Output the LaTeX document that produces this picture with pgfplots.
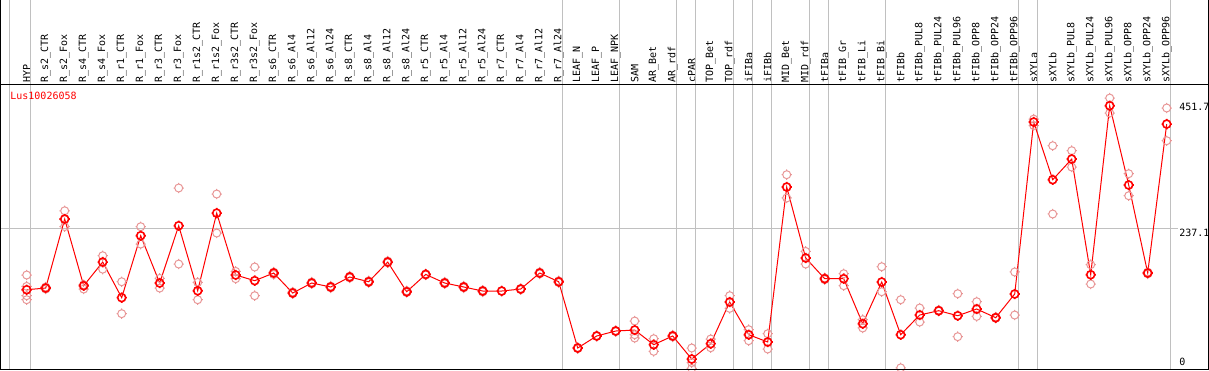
\documentclass[border=0pt]{standalone}
\usepackage{pgfplots}
\pgfplotsset{compat=1.18}
\usepackage{fontspec}
\setmonofont{DejaVu Sans Mono}
\definecolor{gridgray}{RGB}{192,192,192}
\definecolor{reppink}{RGB}{232,150,150}
\definecolor{mainred}{RGB}{255,0,0}
\pgfdeclareplotmark{sun}{%
  \pgfpathcircle{\pgfpointorigin}{\pgfplotmarksize}%
  \pgfpathmoveto{\pgfqpoint{\pgfplotmarksize}{0pt}}\pgfpathlineto{\pgfqpoint{1.3\pgfplotmarksize}{0pt}}%
  \pgfpathmoveto{\pgfqpoint{-\pgfplotmarksize}{0pt}}\pgfpathlineto{\pgfqpoint{-1.3\pgfplotmarksize}{0pt}}%
  \pgfpathmoveto{\pgfqpoint{0pt}{\pgfplotmarksize}}\pgfpathlineto{\pgfqpoint{0pt}{1.3\pgfplotmarksize}}%
  \pgfpathmoveto{\pgfqpoint{0pt}{-\pgfplotmarksize}}\pgfpathlineto{\pgfqpoint{0pt}{-1.3\pgfplotmarksize}}%
  \pgfusepathqstroke}
\pgfplotstableread{
x y
0 131.8
1 134.7
2 252.9
3 138.7
4 179.2
5 118.2
6 224.3
7 143.3
8 241.4
9 130.0
10 263.0
11 157.0
12 147.3
13 160.4
14 126.2
15 143.3
16 136.5
17 153.6
18 145.5
19 179.2
20 128.4
21 158.0
22 143.3
23 136.5
24 129.6
25 129.6
26 133.0
27 160.4
28 145.5
29 32.0
30 52.6
31 61.1
32 62.8
33 37.7
34 52.6
35 13.1
36 39.4
37 110.8
38 54.8
39 42.3
40 307.7
41 186.1
42 150.7
43 150.7
44 73.6
45 145.0
46 54.8
47 88.5
48 95.9
49 87.3
50 98.8
51 83.9
52 124.5
53 419.0
54 320.2
55 355.6
56 157.5
57 446.9
58 311.1
59 160.4
60 415.5
}\meantable
\pgfplotstableread{
x y
0 157.0
0 137.5
0 121.6
0 114.7
1 133.0
1 136.5
2 267.0
2 240.0
2 252.0
3 140.4
3 133.0
4 190.0
4 167.0
5 145.5
5 90.8
6 239.7
6 210.0
7 151.2
7 134.7
8 306.0
8 175.8
9 144.4
9 114.7
10 295.7
10 228.9
11 163.2
11 150.7
12 170.7
12 121.6
13 158.0
13 162.0
14 125.0
14 128.0
15 142.0
15 145.0
16 135.0
16 138.0
17 152.0
17 155.0
18 144.0
18 147.0
19 178.0
19 181.0
20 127.0
20 130.0
21 157.0
21 159.0
22 142.0
22 145.0
23 135.0
23 138.0
24 128.0
24 131.0
25 129.0
25 130.0
26 132.0
26 134.0
27 159.0
27 162.0
28 144.0
28 147.0
29 31.0
29 33.0
30 52.0
30 53.5
31 60.0
31 62.0
32 78.2
32 54.8
32 49.1
33 47.9
33 26.3
34 51.0
34 54.0
35 32.0
35 7.0
35 -3.0
36 47.4
36 32.5
37 121.6
37 99.9
38 63.4
38 44.5
39 56.5
39 30.3
40 328.8
40 288.9
41 197.4
41 175.8
42 149.0
42 152.0
43 159.2
43 138.7
44 80.5
44 66.3
45 171.2
45 128.4
46 114.7
46 -2.0
47 100.5
47 76.5
48 95.0
48 97.0
49 125.0
49 51.4
50 111.3
50 86.1
51 83.0
51 85.0
52 162.2
52 88.5
53 424.0
53 413.0
54 378.4
54 261.5
55 369.9
55 341.9
56 174.7
56 141.6
57 460.0
57 434.4
58 330.5
58 292.8
59 159.0
59 162.0
60 443.0
60 387.0
}\reptable
\begin{document}
\begin{tikzpicture}
\begin{axis}[
  scale only axis,
  width=584.5pt, height=142pt,
  xmin=-1.3526, xmax=60.174,
  ymin=-3.94, ymax=482.4,
  clip=false,
  axis line style={draw=none},
  tick style={draw=none},
  major tick length=0pt,
  ytick=\empty,
  xtick={0,...,60},
  xticklabel pos=upper,
  xticklabel style={font=\ttfamily\fontsize{5}{6}\selectfont, rotate=90, anchor=west, inner sep=1pt},
  xticklabels={HYP,R\_s2\_CTR,R\_s2\_Fox,R\_s4\_CTR,R\_s4\_Fox,R\_r1\_CTR,R\_r1\_Fox,R\_r3\_CTR,R\_r3\_Fox,R\_r1s2\_CTR,R\_r1s2\_Fox,R\_r3s2\_CTR,R\_r3s2\_Fox,R\_s6\_CTR,R\_s6\_Al4,R\_s6\_Al12,R\_s6\_Al24,R\_s8\_CTR,R\_s8\_Al4,R\_s8\_Al12,R\_s8\_Al24,R\_r5\_CTR,R\_r5\_Al4,R\_r5\_Al12,R\_r5\_Al24,R\_r7\_CTR,R\_r7\_Al4,R\_r7\_Al12,R\_r7\_Al24,LEAF\_N,LEAF\_P,LEAF\_NPK,SAM,AR\_Bet,AR\_rdf,cPAR,TOP\_Bet,TOP\_rdf,iFIBa,iFIBb,MID\_Bet,MID\_rdf,tFIBa,tFIB\_Gr,tFIB\_Li,tFIB\_Bi,tFIBb,tFIBb\_PUL8,tFIBb\_PUL24,tFIBb\_PUL96,tFIBb\_OPP8,tFIBb\_OPP24,tFIBb\_OPP96,sXYLa,sXYLb,sXYLb\_PUL8,sXYLb\_PUL24,sXYLb\_PUL96,sXYLb\_OPP8,sXYLb\_OPP24,sXYLb\_OPP96},
]
\pgfplotsinvokeforeach{-0.88,0.2,28.2,31.2,34.2,35.2,37.2,38.2,39.2,41.2,42.2,45.2,52.2,53.2,60.174}{
  \draw[gridgray, line width=0.5pt] (axis cs:#1,-3.94) -- ++(0pt,184.5pt);
}
\draw[gridgray, line width=0.5pt] (axis cs:-1.3526,237.1) -- (axis cs:60.174,237.1) -- ++(4pt,0pt);
\addplot[only marks, mark=sun, mark size=2pt, reppink, line width=0.5pt] table[x=x,y=y]{\reptable};
\addplot[mainred, line width=0.5pt, mark=sun, mark size=2pt, mark options={line width=0.8pt}] table[x=x,y=y]{\meantable};
\node[anchor=west, inner sep=0pt, text=mainred, font=\ttfamily\fontsize{5}{6}\selectfont] at (axis cs:-0.879,464.1) {Lus10026058};
\node[anchor=north west, inner sep=0pt, font=\ttfamily\fontsize{5}{6}\selectfont] at (axis cs:60.174,451.7) [xshift=4.5pt] {451.7};
\node[anchor=north west, inner sep=0pt, font=\ttfamily\fontsize{5}{6}\selectfont] at (axis cs:60.174,237.1) [xshift=4.5pt] {237.1};
\node[anchor=west, inner sep=0pt, font=\ttfamily\fontsize{5}{6}\selectfont] at (axis cs:60.174,8.0) [xshift=4.5pt] {0};
\end{axis}
\draw[black, line width=0.5pt] (0pt,0pt) rectangle (603.5pt,184.5pt);
\draw[black, line width=0.5pt] (0pt,142pt) -- (603.5pt,142pt);
\pgfresetboundingbox
\useasboundingbox (-0.5pt,-0.5pt) rectangle (604pt,184.5pt);
\end{tikzpicture}
\end{document}
